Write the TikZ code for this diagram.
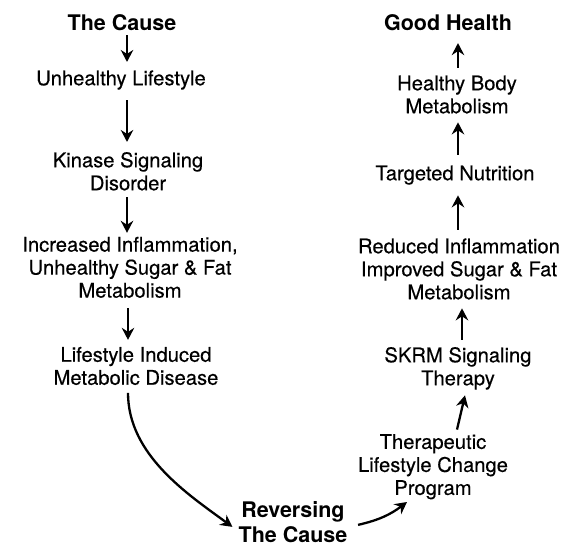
\documentclass[tikz,border=0pt]{standalone}
\usepackage{fontspec}
\setmainfont{TeX Gyre Heros}
\newfontfamily\regfont{TeX Gyre Heros}[FakeBold=0.35]
\usetikzlibrary{arrows.meta}
\tikzset{
  txt/.style={inner sep=0pt, align=center, font=\regfont\fontsize{20.2}{23}\selectfont},
  btxt/.style={inner sep=0pt, align=center, font=\fontsize{21.5}{24}\selectfont\bfseries},
  arr/.style={line width=2.3pt, -{Stealth[length=12pt,width=12.5pt,inset=4pt]}},
}
\begin{document}
\begin{tikzpicture}[x=1pt,y=1pt]
\useasboundingbox (0,0) rectangle (563,546);
% left column
\node[btxt] (cause) at (122,520.1) {\strut The Cause};
\node[txt] (ul) at (121,465.35) {\strut Unhealthy Lifestyle};
\node[txt] (ksd) at (128,371.85) {\strut Kinase Signaling\\\strut Disorder};
\node[txt] (inf) at (130,276) {\strut Increased Inflammation,\\\strut Unhealthy Sugar \& Fat\\\strut Metabolism};
\node[txt] (lim) at (136,177.35) {\strut Lifestyle Induced\\\strut Metabolic Disease};
% bottom
\node[btxt] (rev) at (293,24.7) {\strut Reversing\\\rule{0pt}{16.8pt}The Cause};
% right column
\node[txt] (ther) at (433,78.7) {\strut Therapeutic\\\strut Lifestyle Change\\\strut Program};
\node[txt] (skrm) at (458,176.85) {\strut SKRM Signaling\\\strut Therapy};
\node[txt] (red) at (459,274.35) {\strut Reduced Inflammation\\\strut Improved Sugar \& Fat\\\strut Metabolism};
\node[txt] (tn) at (455,370.35) {\strut Targeted Nutrition};
\node[txt] (hb) at (457,448.85) {\strut Healthy Body\\\strut Metabolism};
\node[btxt] (gh) at (448,520.1) {\strut Good Health};
% left arrows
\draw[arr] ([xshift=5pt,yshift=3pt]cause.south) -- ([xshift=6pt,yshift=7pt]ul.north);
\draw[arr] ([xshift=6pt,yshift=-8pt]ul.south) -- ([xshift=-1pt,yshift=9pt]ksd.north);
\draw[arr] ([xshift=-1pt]ksd.south) -- ([xshift=-3pt,yshift=2.5pt]inf.north);
\draw[arr] ([xshift=-2pt,yshift=-3.5pt]inf.south) -- ([xshift=-8pt,yshift=5.6pt]lim.north);
% curve to bottom
\draw[arr] ([xshift=-8pt,yshift=-1pt]lim.south) .. controls +(0,-62) and +(-44.5,32.5) .. ([xshift=-6pt,yshift=-5.6pt]rev.west);
\draw[arr] ([xshift=10.5pt,yshift=-3.6pt]rev.east) to[bend right=12] ([xshift=-26pt]ther.south);
% right arrows
\draw[arr] ([xshift=24pt,yshift=3pt]ther.north) -- ([xshift=7pt,yshift=-3pt]skrm.south);
\draw[arr] ([xshift=4pt,yshift=6pt]skrm.north) -- ([xshift=3pt,yshift=-2pt]red.south);
\draw[arr] ([xshift=-1pt,yshift=7pt]red.north) -- ([xshift=3pt,yshift=-8pt]tn.south);
\draw[arr] ([xshift=3pt,yshift=9pt]tn.north) -- ([xshift=1pt,yshift=-2pt]hb.south);
\draw[arr] ([xshift=1pt,yshift=6pt]hb.north) -- ([xshift=10pt,yshift=-5pt]gh.south);
\end{tikzpicture}
\end{document}
